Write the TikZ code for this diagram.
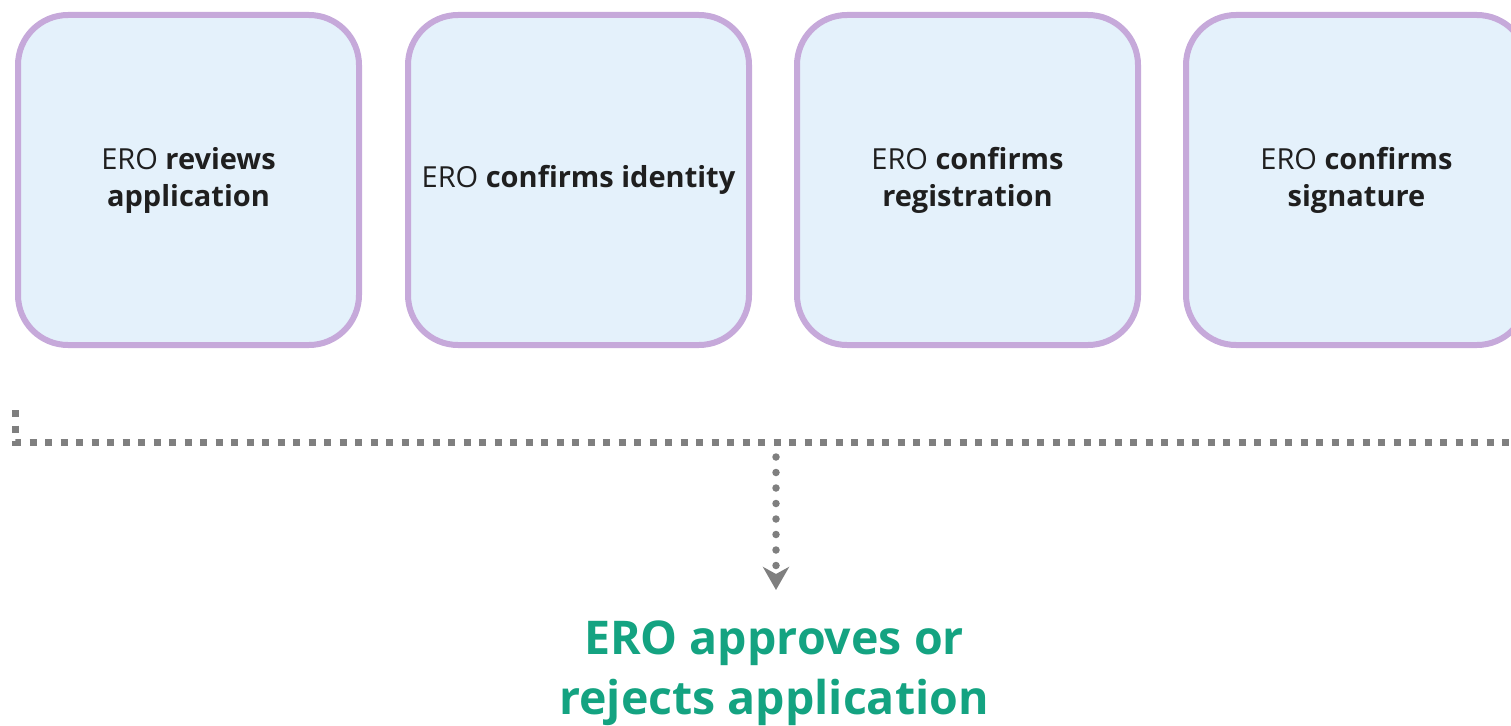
\documentclass[tikz,border=0pt]{standalone}
\usepackage{fontspec}
\setmainfont{Open Sans}
\usepackage{xcolor}
\usetikzlibrary{arrows.meta, positioning, calc}

\definecolor{stagefill}{HTML}{E4F1FB}
\definecolor{stageline}{HTML}{C6A9DA}
\definecolor{stagetext}{HTML}{1F1F1F}
\definecolor{outcome}{HTML}{14A381}
\definecolor{dotgray}{HTML}{7F7F7F}

\begin{document}
\begin{tikzpicture}[x=1pt, y=-1pt,
    stage/.style={draw=stageline, line width=6pt, fill=stagefill, rounded corners=50pt,
        minimum width=341pt, minimum height=330pt, align=center, text=stagetext,
        font=\fontsize{29}{37}\selectfont},
    result/.style={align=center, inner sep=0pt, text=outcome,
        font=\bfseries\fontsize{46.5}{60}\selectfont},
    squaredots/.style={draw=dotgray, line width=7pt, dash pattern=on 7pt off 8.5pt},
    rounddots/.style={draw=dotgray, line width=7.5pt, line cap=round, dash pattern=on 0pt off 15.5pt}]
\useasboundingbox (0,0) rectangle (1511,725);

% the four checks
\node[stage] (reviews) at (188.5,180) {ERO \textbf{reviews}\\\textbf{application}};
\node[stage] (identity) at (578.5,180) {ERO \textbf{confirms identity}};
\node[stage] (registration) at (967.5,180) {ERO \textbf{confirms}\\\textbf{registration}};
\node[stage] (signature) at (1356.5,180) {ERO \textbf{confirms}\\\textbf{signature}};

% collecting line
\coordinate (gather) at (15,410);
\coordinate (split) at (776,442);
\coordinate (edge) at (1511,442);
\draw[squaredots] (gather) |- (edge);

% outcome
\node[result, anchor=north] (decision) at (774,621) {ERO approves or\\rejects application};

\draw[rounddots, shorten <=15pt, shorten >=31pt,
    -{Stealth[length=23pt, width=26pt, inset=7pt]}] (split) -- (split |- decision.north);
\end{tikzpicture}
\end{document}
